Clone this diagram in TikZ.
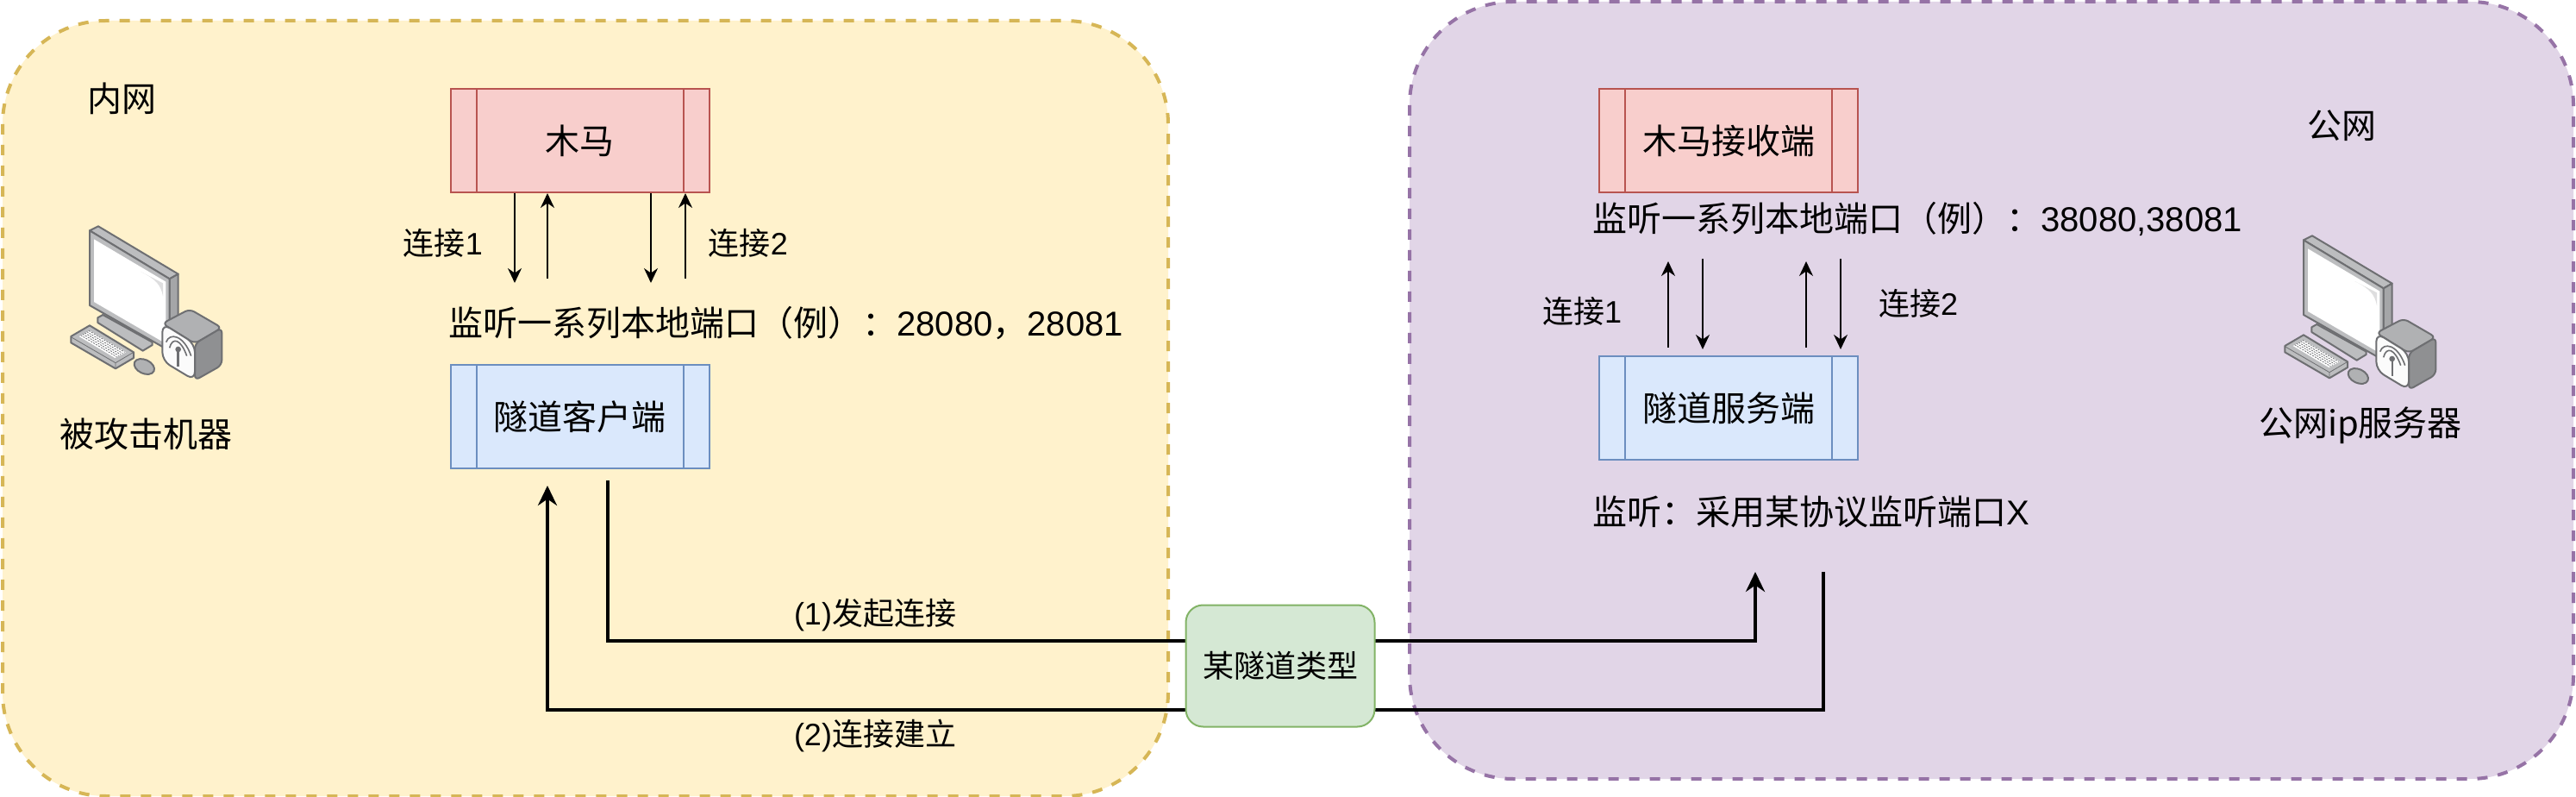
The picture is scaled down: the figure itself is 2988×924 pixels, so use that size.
\documentclass[tikz,border=0pt]{standalone}
\usepackage{fontspec}
\setmainfont{Noto Sans CJK SC}
\newfontfamily\latinfont{Liberation Sans}
\usetikzlibrary{arrows.meta, positioning}
\definecolor{yellowfill}{HTML}{FFF2CC}
\definecolor{yellowline}{HTML}{D6B656}
\definecolor{purplefill}{HTML}{E1D5E7}
\definecolor{purpleline}{HTML}{9673A6}
\definecolor{redfill}{HTML}{F8CECC}
\definecolor{redline}{HTML}{B85450}
\definecolor{bluefill}{HTML}{DAE8FC}
\definecolor{blueline}{HTML}{6C8EBF}
\definecolor{greenfill}{HTML}{D5E8D4}
\definecolor{greenline}{HTML}{82B366}
\definecolor{iconline}{HTML}{6E6F72}
\definecolor{iconlight}{HTML}{BCBDBF}
\definecolor{iconmid}{HTML}{B0B1B3}
\definecolor{icondark}{HTML}{8F9092}
\tikzset{
zone/.style 2 args={draw=#2, fill=#1, line width=2pt, dash pattern=on 6pt off 6pt, rounded corners=60pt}, % the two big areas
procbox/.style 2 args={draw=#2, fill=#1, line width=1pt, minimum width=150pt, minimum height=60pt, font=\bigfont,
    path picture={
      \draw[#2, line width=1pt] ([xshift=15pt]path picture bounding box.north west) -- ([xshift=15pt]path picture bounding box.south west);
      \draw[#2, line width=1pt] ([xshift=-15pt]path picture bounding box.north east) -- ([xshift=-15pt]path picture bounding box.south east);
    }}, % box with the two inner side bars
bigtext/.style={font=\bigfont, inner sep=0pt},
smalltext/.style={font=\smallfont, inner sep=0pt},
thinarrow/.style={->, >={Stealth[length=8.5pt,width=8pt]}, line width=1pt},
thickarrow/.style={->, >={Stealth[length=11.5pt,width=11pt]}, line width=2pt},
pcicon/.pic={
  \begin{scope}[x=0.16667pt, y=-0.16667pt, draw=iconline, line width=1pt, line join=round]
    % monitor
    \draw[fill=iconlight] (312,622) -- (342,607) -- (620,773) -- (590,790) -- cycle;
    \draw[fill=icondark!80!white] (590,790) -- (620,773) -- (620,930) -- (590,950) -- cycle;
    \draw[fill=iconlight] (312,622) -- (590,790) -- (590,1040) -- (312,882) -- cycle;
    \fill[white] (327,652) -- (577,800) -- (577,1015) -- (327,870) -- cycle;
    \fill[iconlight!50!white] (490,765) .. controls (540,790) and (560,810) .. (567,850) -- (567,805) -- cycle;
    % stand
    \draw[fill=iconlight] (340,925) -- (358,915) -- (530,1010) -- (530,1020) -- (497,1040) -- (340,942) -- cycle;
    % keyboard
    \draw[fill=iconlight] (247,990) -- (312,952) -- (465,1045) -- (465,1065) -- (402,1102) -- (247,1012) -- cycle;
    \draw[line width=0.4pt] (247,992) -- (402,1082) -- (465,1045) (402,1082) -- (402,1102);
    \fill[white] (275,990) -- (312,970) -- (438,1045) -- (400,1065) -- cycle;
    \foreach \k in {0,1,2,3,4} {
      \draw[iconline, line width=0.4pt, dash pattern=on 1pt off 0.7pt] (281+7*\k,986-4*\k) -- (406+7*\k,1061-4*\k);
    }
    % mouse
    \draw[fill=iconmid, rotate around={-25:(502,1095)}] (502,1095) ellipse (37 and 24);
    % tower
    \draw[fill=iconmid, rounded corners=3pt] (565,945) -- (660,895) -- (772,960) -- (678,1015) -- cycle;
    \draw[fill=icondark, rounded corners=3pt] (678,1015) -- (772,960) -- (772,1090) -- (678,1143) -- cycle;
    \draw[fill=white!95!iconmid, rounded corners=5pt] (565,945) -- (678,1015) -- (678,1143) -- (565,1075) -- cycle;
    % antenna
    \draw[line width=1.2pt] (620,1035) -- (620,1095);
    \fill[iconline] (620,1035) circle (10);
    \draw[line width=0.8pt] (578,1010) .. controls (590,975) and (640,985) .. (665,1058);
    \draw[line width=0.8pt] (590,1030) .. controls (600,990) and (630,1000) .. (650,1058);
  \end{scope}
},
}
\newcommand{\bigfont}{\fontsize{20pt}{24pt}\selectfont}
\newcommand{\smallfont}{\fontsize{18pt}{22pt}\selectfont}

\begin{document}
\begin{tikzpicture}[x=0.5pt, y=-0.5pt]
    \useasboundingbox (0,0) rectangle (2988,924);
    \draw[zone={yellowfill}{yellowline}] (3,24) rectangle (1355,923);
    \draw[zone={purplefill}{purpleline}] (1635,2) rectangle (2985,903);

    \node[bigtext] (neiwang) at (141,114) {内网};
    \node[bigtext] (gongwang) at (2716,146) {公网};
    \pic (pcleft) at (0,60) {pcicon};
    \pic (pcright) at (2568,71) {pcicon};
    \node[bigtext] (victim) at (169,503) {被攻击机器};
    \node[bigtext] (server) at (2738,493) {公网ip服务器};

    \node[procbox={redfill}{redline}] (muma) at (672.5,163) {木马};
    \node[procbox={bluefill}{blueline}, below of=muma, node distance=160pt] (kehu) {隧道客户端};
    \node[bigtext, anchor=west] (portsleft) at (520,375) {监听一系列本地端口（例）：{\latinfont 28080}，{\latinfont 28081}};

    \node[procbox={redfill}{redline}] (jieshou) at (2005,163) {木马接收端};
    \node[procbox={bluefill}{blueline}, below of=jieshou, node distance=155pt] (fuwu) {隧道服务端};
    \node[bigtext, anchor=west] (portsright) at (1847,254) {监听一系列本地端口（例）：{\latinfont 38080,38081}};
    \node[bigtext, anchor=west] (listen) at (1847,593) {监听：采用某协议监听端口{\latinfont X}};

    \coordinate (l1a) at (597,328);
    \coordinate (l1b) at (635,323);
    \coordinate (l2a) at (755,328);
    \coordinate (l2b) at (795,323);
    \draw[thinarrow] (muma.south -| l1a) -- (l1a);
    \draw[thinarrow] (l1b) -- (muma.south -| l1b);
    \draw[thinarrow] (muma.south -| l2a) -- (l2a);
    \draw[thinarrow] (l2b) -- (muma.south -| l2b);
    \node[smalltext] (leftone) at (514,282) {连接{\latinfont 1}};
    \node[smalltext] (lefttwo) at (868,282) {连接{\latinfont 2}};

    \coordinate (r1a) at (1935,403);
    \coordinate (r1b) at (1935,303);
    \coordinate (r2a) at (1975,300);
    \coordinate (r2b) at (1975,405);
    \coordinate (r3a) at (2095,403);
    \coordinate (r3b) at (2095,303);
    \coordinate (r4a) at (2135,300);
    \coordinate (r4b) at (2135,405);
    \draw[thinarrow] (r1a) -- (r1b);
    \draw[thinarrow] (r2a) -- (r2b);
    \draw[thinarrow] (r3a) -- (r3b);
    \draw[thinarrow] (r4a) -- (r4b);
    \node[smalltext] (rightone) at (1835,361) {连接{\latinfont 1}};
    \node[smalltext] (righttwo) at (2225,352) {连接{\latinfont 2}};

    % the tunnel node goes on top of both lines
    \coordinate (faqia) at (705,557);
    \coordinate (faqib) at (2036,663);
    \coordinate (jianlia) at (2115,663);
    \coordinate (jianlib) at (635,563);
    \draw[thickarrow] (faqia) -- ++(0,186) -| (faqib);
    \draw[thickarrow] (jianlia) -- ++(0,160) -| (jianlib);
    \node[draw=greenline, fill=greenfill, line width=1pt, rounded corners=10pt, minimum width=109.5pt, minimum height=70.5pt, font=\smallfont] (suidao) at (1485,772) {某隧道类型};
    \node[smalltext] (faqi) at (1015,713) {{\latinfont (1)}发起连接};
    \node[smalltext] (jianli) at (1015,853) {{\latinfont (2)}连接建立};
\end{tikzpicture}
\end{document}
